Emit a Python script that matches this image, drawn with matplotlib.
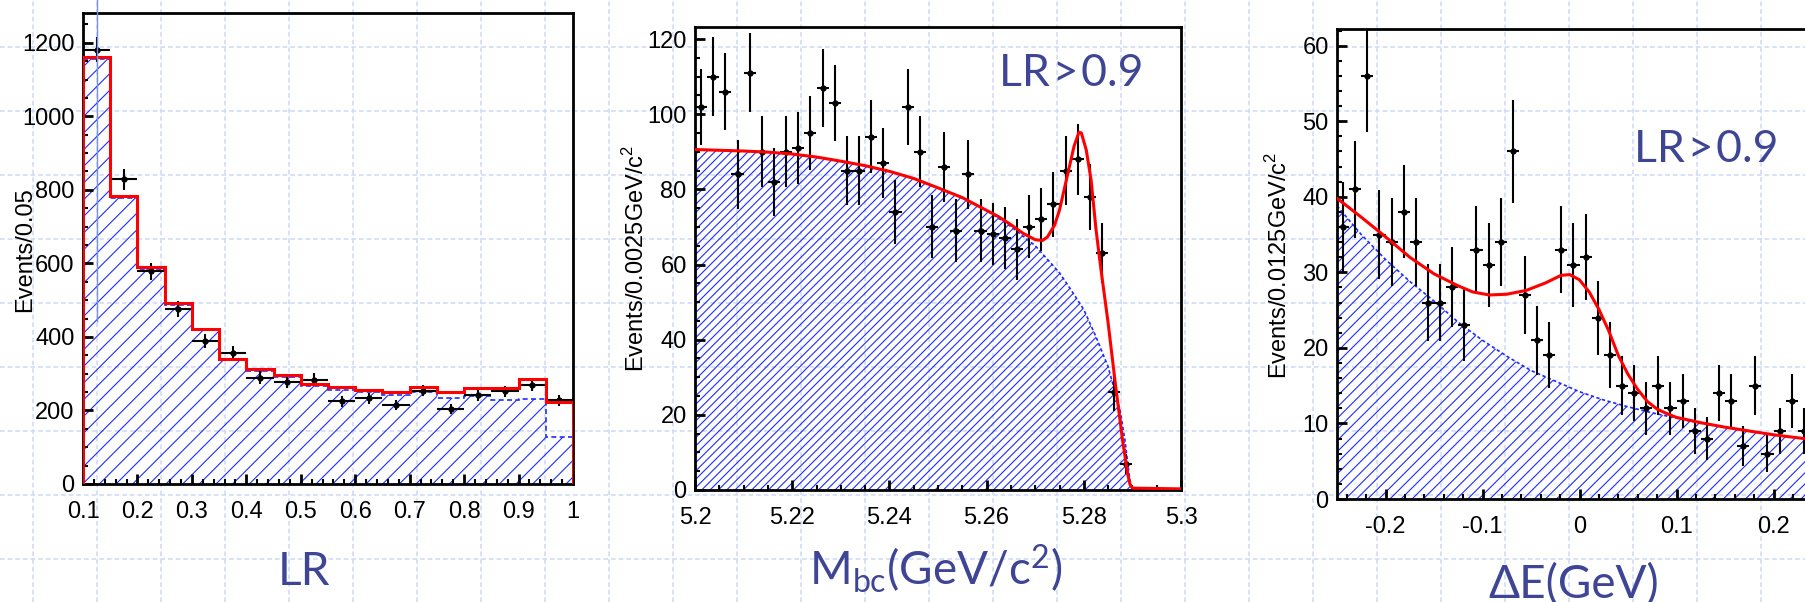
import numpy as np
import matplotlib.pyplot as plt
from matplotlib.lines import Line2D
from matplotlib.ticker import MultipleLocator

plt.rcParams['font.family'] = ['Liberation Sans', 'DejaVu Sans']
plt.rcParams['axes.unicode_minus'] = False
plt.rcParams['hatch.linewidth'] = 0.8
plt.rcParams['mathtext.fontset'] = 'custom'
plt.rcParams['mathtext.rm'] = 'Liberation Sans'
plt.rcParams['mathtext.sf'] = 'Lato'

W, H = 1805, 602
SLATE = '#3d4594'
BLUE = '#1f2cff'
GRID = '#cdd9f5'
plt.rcParams['hatch.color'] = BLUE

# ---- panel 1: LR distribution (bins of 0.05)
lr_edges = [0.10, 0.15, 0.20, 0.25, 0.30, 0.35, 0.40, 0.45, 0.50, 0.55,
            0.60, 0.65, 0.70, 0.75, 0.80, 0.85, 0.90, 0.95, 1.00]
lr_total = [1161, 782, 590, 491, 421, 340, 314, 296, 272, 263,
            256, 251, 265, 249, 262, 260, 286, 223]
lr_bkg = [1155, 778, 585, 486, 418, 336, 308, 290, 266, 256,
          249, 242, 249, 233, 238, 228, 230, 128]
lr_data = [1181, 829, 578, 477, 389, 357, 289, 278, 284, 225,
           233, 215, 254, 204, 242, 252, 270, 228]
lr_ticks = [0.1, 0.2, 0.3, 0.4, 0.5, 0.6, 0.7, 0.8, 0.9, 1.0]
lr_ticklabels = ['0.1', '0.2', '0.3', '0.4', '0.5', '0.6', '0.7', '0.8', '0.9', '1']

# ---- panel 2: Mbc (bins of 0.0025 from 5.2)
mbc_lo, mbc_w = 5.2, 0.0025
mbc_counts = [102, 110, 106, 84, 111, 90, 82, 90, 91, 95, 107, 103, 85, 85, 94, 87,
              74, 102, 90, 70, 86, 69, 84, 69, 68, 67, 64, 70, 72, 76, 85, 88,
              78, 63, 26, 7]
mbc_bkg_x = [5.200, 5.205, 5.210, 5.215, 5.220, 5.225, 5.230, 5.235, 5.240, 5.245,
             5.250, 5.255, 5.260, 5.265, 5.270, 5.2725, 5.275, 5.2775, 5.280, 5.2825,
             5.285, 5.2875, 5.2885, 5.289, 5.2895, 5.290, 5.300]
mbc_bkg_y = [90.6, 90.4, 90.2, 89.9, 89.4, 88.6, 87.5, 86.3, 84.8, 82.9,
             80.4, 77.8, 74.4, 70.1, 65.0, 61.4, 57.8, 53.0, 48.0, 40.8,
             32.8, 21.0, 13.0, 7.5, 2.5, 0.3, 0.3]
mbc_tot_x = [5.200, 5.205, 5.210, 5.215, 5.220, 5.225, 5.230, 5.235, 5.240, 5.245,
             5.250, 5.255, 5.260, 5.2625, 5.265, 5.2675, 5.270, 5.2715, 5.2725, 5.274,
             5.275, 5.2765, 5.278, 5.279, 5.2795, 5.2805, 5.2815, 5.2825, 5.2835, 5.285,
             5.2865, 5.288, 5.289, 5.2895, 5.290, 5.300]
mbc_tot_y = [90.6, 90.4, 90.2, 89.9, 89.4, 88.6, 87.5, 86.3, 84.8, 82.9,
             80.4, 77.8, 74.4, 72.7, 70.6, 68.3, 66.6, 66.4, 67.3, 70.5,
             74.5, 83.0, 91.5, 95.2, 95.0, 90.5, 82.5, 69.5, 59.0, 44.5,
             28.2, 13.0, 4.5, 1.5, 0.5, 0.3]
mbc_ticks = [5.2, 5.22, 5.24, 5.26, 5.28, 5.3]
mbc_ticklabels = ['5.2', '5.22', '5.24', '5.26', '5.28', '5.3']

# ---- panel 3: Delta E (bins of 0.0125 from -0.25)
de_lo, de_w = -0.25, 0.0125
de_counts = [36, 41, 56, 35, 34, 38, 34, 26, 26, 28, 23, 33, 31, 34, 46, 27, 21, 19,
             33, 31, 32, 24, 19, 15, 14, 12, 15, 12, 13, 9, 8, 14, 13, 7, 15, 6, 9, 13, 9]
de_bkg_x = [-0.25, -0.225, -0.2, -0.175, -0.15, -0.125, -0.1, -0.075, -0.05, -0.025,
            0.0, 0.025, 0.05, 0.075, 0.1, 0.125, 0.15, 0.175, 0.2, 0.225, 0.25]
de_bkg_y = [38.8, 35.0, 31.7, 28.8, 26.2, 23.4, 21.0, 18.9, 17.0, 15.6,
            14.2, 13.1, 12.2, 11.4, 10.7, 10.0, 9.5, 9.0, 8.5, 8.1, 7.7]
de_tot_x = [-0.25, -0.225, -0.2, -0.175, -0.15, -0.125, -0.11, -0.093, -0.075, -0.055,
            -0.035, -0.019, -0.01, 0.0, 0.01, 0.02, 0.03, 0.04, 0.05, 0.06,
            0.07, 0.08, 0.09, 0.1, 0.125, 0.15, 0.175, 0.2, 0.225, 0.25]
de_tot_y = [39.8, 37.3, 34.7, 32.0, 29.8, 28.2, 27.4, 27.0, 27.1, 27.6,
            28.6, 29.6, 29.7, 29.0, 27.4, 25.1, 22.3, 19.0, 16.5, 14.5,
            12.9, 11.9, 11.3, 10.8, 10.1, 9.5, 9.0, 8.5, 8.1, 7.7]
de_ticks = [-0.2, -0.1, 0.0, 0.1, 0.2]
de_ticklabels = ['-0.2', '-0.1', '0', '0.1', '0.2']

fig = plt.figure(figsize=(W / 100, H / 100), dpi=100)
fig.patch.set_facecolor('white')

# slide background: dashed light-blue grid
bg = fig.add_axes([0, 0, 1, 1], zorder=-10)
bg.set_xlim(0, W)
bg.set_ylim(H, 0)
bg.axis('off')
for gx in np.arange(33, W, 64):
    bg.axvline(gx, color=GRID, lw=1.1, ls=(0, (3, 2)))
for gy in np.arange(47, H, 64):
    bg.axhline(gy, color=GRID, lw=1.1, ls=(0, (3, 2)))


def px_axes(left, right, top, bottom):
    return fig.add_axes([left / W, 1 - bottom / H, (right - left) / W, (bottom - top) / H])


def style(ax):
    ax.set_facecolor('none')
    for s in ax.spines.values():
        s.set_linewidth(2.0)
    ax.tick_params(which='both', direction='in', top=False, right=False, labelsize=17)
    ax.tick_params(which='major', length=7, width=2.0)
    ax.tick_params(which='minor', length=3.6, width=1.5)
    ax.tick_params(axis='x', pad=12)
    ax.tick_params(axis='y', pad=6)


def figtext(x, y, s, **kw):
    fig.text(x / W, 1 - y / H, s, **kw)


# ---- panel 1
ax1 = px_axes(83, 573, 13, 484)
style(ax1)
lr_centers = [(a + b) / 2 for a, b in zip(lr_edges[:-1], lr_edges[1:])]
ax1.stairs(lr_bkg, lr_edges, fill=True, facecolor='none', edgecolor=BLUE, hatch='//', lw=0)
ax1.stairs(lr_bkg, lr_edges, color=BLUE, ls=(0, (3, 2)), lw=1.2)
ax1.errorbar(lr_centers, lr_data, xerr=0.025, yerr=np.sqrt(lr_data), fmt='o', color='k',
             ms=3.5, elinewidth=1.5, capsize=0, zorder=3)
ax1.stairs(lr_total, lr_edges, color='red', lw=2.2, zorder=4)
ax1.set_xlim(0.1, 1.0)
ax1.set_ylim(0, 1281)
ax1.set_xticks(lr_ticks, lr_ticklabels)
ax1.set_yticks([0, 200, 400, 600, 800, 1000, 1200])
ax1.xaxis.set_minor_locator(MultipleLocator(0.02))
ax1.yaxis.set_minor_locator(MultipleLocator(50))

# ---- panel 2
ax2 = px_axes(695, 1181, 27, 490)
style(ax2)
mbc_centers = [mbc_lo + mbc_w * (i + 0.5) for i in range(len(mbc_counts))]
ax2.fill_between(mbc_bkg_x, mbc_bkg_y, 0, facecolor='none', edgecolor=BLUE, hatch='////', lw=0)
ax2.plot(mbc_bkg_x, mbc_bkg_y, color=BLUE, ls=(0, (2, 1.5)), lw=1.2)
ax2.errorbar(mbc_centers, mbc_counts, xerr=mbc_w / 2, yerr=np.sqrt(mbc_counts), fmt='o',
             color='k', ms=3.5, elinewidth=1.5, capsize=0, zorder=3)
ax2.plot(mbc_tot_x, mbc_tot_y, color='red', lw=2.2, zorder=4)
ax2.set_xlim(5.2, 5.3)
ax2.set_ylim(0, 123.2)
ax2.set_xticks(mbc_ticks, mbc_ticklabels)
ax2.set_yticks([0, 20, 40, 60, 80, 100, 120])
ax2.xaxis.set_minor_locator(MultipleLocator(0.005))
ax2.yaxis.set_minor_locator(MultipleLocator(5))

# ---- panel 3 (right part runs off the slide)
ax3 = px_axes(1337, 1822, 29, 499)
style(ax3)
de_centers = [de_lo + de_w * (i + 0.5) for i in range(len(de_counts))]
ax3.fill_between(de_bkg_x, de_bkg_y, 0, facecolor='none', edgecolor=BLUE, hatch='///', lw=0)
ax3.plot(de_bkg_x, de_bkg_y, color=BLUE, ls=(0, (2, 1.5)), lw=1.2)
ax3.errorbar(de_centers, de_counts, xerr=de_w / 2, yerr=np.sqrt(de_counts), fmt='o',
             color='k', ms=3.5, elinewidth=1.5, capsize=0, zorder=3)
ax3.plot(de_tot_x, de_tot_y, color='red', lw=2.2, zorder=4)
ax3.set_xlim(-0.25, 0.25)
ax3.set_ylim(0, 62.2)
ax3.set_xticks(de_ticks, de_ticklabels)
ax3.set_yticks([0, 10, 20, 30, 40, 50, 60])
ax3.xaxis.set_minor_locator(MultipleLocator(0.02))
ax3.yaxis.set_minor_locator(MultipleLocator(2))

# axis titles
figtext(25, 250, 'Events/0.05', rotation=90, ha='center', va='center', size=17)
figtext(636, 258, 'Events/0.0025GeV/c$^{2}$', rotation=90, ha='center', va='center', size=17)
figtext(1279, 265, 'Events/0.0125GeV/c$^{2}$', rotation=90, ha='center', va='center', size=17)

LATO = ['Lato', 'DejaVu Sans']
figtext(304, 585, 'LR', ha='center', va='baseline', size=33, color=SLATE, family=LATO)
figtext(936, 585, r'$\mathsf{M_{bc}(GeV/c^{2})}$', ha='center', va='baseline', size=33, color=SLATE)
figtext(1574, 598, 'ΔE(GeV)', ha='center', va='baseline', size=33, color=SLATE, family=LATO)
figtext(1071, 86, 'LR\u200a>\u200a0.9', ha='center', va='baseline', size=32, color=SLATE, family=LATO)
figtext(1706, 162, 'LR\u200a>\u200a0.9', ha='center', va='baseline', size=32, color=SLATE, family=LATO)

# thin solid blue slide line over the first panel
fig.add_artist(Line2D([97 / W, 97 / W], [1, 1 - 321 / H], color='#7592e6', lw=1.0, zorder=50))

fig.savefig('out.png', dpi=100)
